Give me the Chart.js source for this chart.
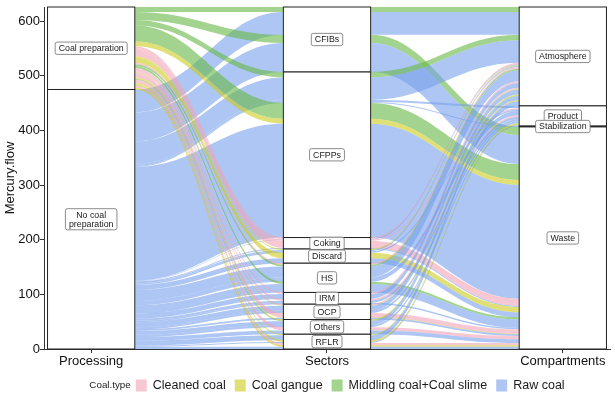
<!DOCTYPE html>
<html><head><meta charset="utf-8">
<script src="https://cdn.jsdelivr.net/npm/chart.js@4"></script>
<style>html,body{margin:0;padding:0;background:#fff}#wrap{width:615px;height:401px}</style>
</head><body><div id="wrap"><canvas id="c" width="615" height="401"></canvas></div>
<script>
// ---- categories ----
const axisNames = ['Processing', 'Sectors', 'Compartments'];
const processingLevels = ['Coal preparation', 'No coal preparation'];
const sectorLevels = ['CFIBs', 'CFPPs', 'Coking', 'Discard', 'HS', 'IRM', 'OCP', 'Others', 'RFLR'];
const compartmentLevels = ['Atmosphere', 'Product', 'Stabilization', 'Waste'];
const coalTypes = ['Cleaned coal', 'Coal gangue', 'Middling coal+Coal slime', 'Raw coal'];
const yTicks = [0, 100, 200, 300, 400, 500, 600];

const P = 'Coal preparation', N = 'No coal preparation';
const CC = 'Cleaned coal', CG = 'Coal gangue', MC = 'Middling coal+Coal slime', RC = 'Raw coal';
const A = 'Atmosphere', PR = 'Product', S = 'Stabilization', W = 'Waste';

// ---- alluvia (one entry per flow) ----
const flowProcessing = [
  P,N,P,N,
  P,N,N,N,P,P,N,
  P,N,P,P,N,
  P,N,N,P,N,
  P,P,N,N,P,N,
  P,N,P,N,N,
  P,P,N,N,P,P,N,
  P,P,N,N,P,N,
  P,N,P,N,P,P,N];
const flowSector = [
  'CFIBs','CFIBs','CFIBs','CFIBs',
  'CFPPs','CFPPs','CFPPs','CFPPs','CFPPs','CFPPs','CFPPs',
  'Coking','Coking','Coking','Coking','Coking',
  'Discard','Discard','Discard','Discard','Discard',
  'HS','HS','HS','HS','HS','HS',
  'IRM','IRM','IRM','IRM','IRM',
  'OCP','OCP','OCP','OCP','OCP','OCP','OCP',
  'Others','Others','Others','Others','Others','Others',
  'RFLR','RFLR','RFLR','RFLR','RFLR','RFLR','RFLR'];
const flowCompartment = [
  A,A,W,W,
  A,A,PR,S,W,W,W,
  A,A,PR,W,W,
  A,A,PR,W,W,
  A,A,A,PR,W,W,
  A,A,PR,PR,W,
  A,A,A,PR,W,W,W,
  A,A,A,PR,W,W,
  A,A,PR,PR,W,W,W];
const flowCoalType = [
  MC,RC,MC,RC,
  MC,RC,RC,RC,MC,CG,RC,
  CC,RC,CC,CC,RC,
  CG,RC,RC,CG,RC,
  CC,MC,RC,RC,MC,RC,
  CC,RC,CC,RC,RC,
  CC,CG,RC,RC,CC,CG,RC,
  CG,MC,RC,RC,CC,RC,
  CG,RC,CG,RC,CC,CG,RC];
const flowMercury = [
  9,42,15,53,
  10,41,4,1.5,29,9,208.5,
  3,1,2,13,2,
  2,2,3,10,9,
  3,3,20,8,4,15.5,
  3,9,3,4,2.5,
  2,1,9,4,8,1,3,
  2,1,7,4,6,7,
  2,9,3,2,4,3,4];

// ---- styles ----
const coalColors = ['rgba(242,163,182,0.6)', 'rgba(203,203,27,0.6)', 'rgba(102,183,68,0.6)', 'rgba(118,160,235,0.6)'];
const FONT = '"Liberation Sans", Arial, sans-serif';
const stratumWidth = 0.37;
const knot = 0.42;

function stack(keys) {
  const n = flowMercury.length;
  const idx = [...Array(n).keys()];
  idx.sort((a, b) => {
    for (const k of keys) { const d = k[a] - k[b]; if (d) return d; }
    return a - b;
  });
  const total = flowMercury.reduce((s, v) => s + v, 0);
  const top = new Array(n), bot = new Array(n);
  let cur = total;
  for (const i of idx) { top[i] = cur; cur -= flowMercury[i]; bot[i] = cur; }
  return { top, bot };
}

const pI = flowProcessing.map(v => processingLevels.indexOf(v));
const sI = flowSector.map(v => sectorLevels.indexOf(v));
const cI = flowCompartment.map(v => compartmentLevels.indexOf(v));
const tI = flowCoalType.map(v => coalTypes.indexOf(v));
const axisStacks = [stack([pI, sI, cI]), stack([sI, cI, pI]), stack([cI, sI, pI])];
const axisVars = [[pI, processingLevels], [sI, sectorLevels], [cI, compartmentLevels]];
const stratumLabels = {'No coal preparation': 'No coal\npreparation'};

function roundRect(ctx, x, y, w, h, r) {
  ctx.beginPath();
  ctx.moveTo(x + r, y); ctx.lineTo(x + w - r, y); ctx.quadraticCurveTo(x + w, y, x + w, y + r);
  ctx.lineTo(x + w, y + h - r); ctx.quadraticCurveTo(x + w, y + h, x + w - r, y + h);
  ctx.lineTo(x + r, y + h); ctx.quadraticCurveTo(x, y + h, x, y + h - r);
  ctx.lineTo(x, y + r); ctx.quadraticCurveTo(x, y, x + r, y); ctx.closePath();
}

function drawLabel(ctx, text, x, y) {
  const lines = text.split('\n');
  ctx.font = '8.8px ' + FONT;
  const lh = 8.8;
  const w = Math.max(...lines.map(l => ctx.measureText(l).width)) + 7;
  const h = lines.length * lh + 3.5;
  roundRect(ctx, x - w / 2, y - h / 2, w, h, 2);
  ctx.fillStyle = '#fff'; ctx.fill();
  ctx.lineWidth = 0.8; ctx.strokeStyle = '#6e6e6e'; ctx.stroke();
  ctx.fillStyle = '#1a1a1a'; ctx.textAlign = 'center'; ctx.textBaseline = 'middle';
  lines.forEach((l, k) => ctx.fillText(l, x, y - (lines.length - 1) * lh / 2 + k * lh + 0.5));
}

const alluvialPlugin = {
  id: 'alluvial',
  beforeDatasetsDraw(chart) {
    const ctx = chart.ctx, xs = chart.scales.x, ys = chart.scales.y;
    ctx.save();
    // flows
    for (let i = 0; i < flowMercury.length; i++) {
      ctx.fillStyle = coalColors[tI[i]];
      for (let a = 0; a < 2; a++) {
        const x0 = xs.getPixelForValue(a + 1 + stratumWidth / 2);
        const x1 = xs.getPixelForValue(a + 2 - stratumWidth / 2);
        const dx = x1 - x0;
        const t0 = ys.getPixelForValue(axisStacks[a].top[i]), b0 = ys.getPixelForValue(axisStacks[a].bot[i]);
        const t1 = ys.getPixelForValue(axisStacks[a + 1].top[i]), b1 = ys.getPixelForValue(axisStacks[a + 1].bot[i]);
        ctx.beginPath();
        ctx.moveTo(x0, t0);
        ctx.bezierCurveTo(x0 + knot * dx, t0, x1 - knot * dx, t1, x1, t1);
        ctx.lineTo(x1, b1);
        ctx.bezierCurveTo(x1 - knot * dx, b1, x0 + knot * dx, b0, x0, b0);
        ctx.closePath();
        ctx.fill();
      }
    }
    // strata
    const labels = [];
    for (let a = 0; a < 3; a++) {
      const [vi, levels] = axisVars[a];
      const xl = xs.getPixelForValue(a + 1 - stratumWidth / 2), xr = xs.getPixelForValue(a + 1 + stratumWidth / 2);
      levels.forEach((lev, li) => {
        let top = -Infinity, bot = Infinity;
        for (let i = 0; i < flowMercury.length; i++) if (vi[i] === li) {
          top = Math.max(top, axisStacks[a].top[i]); bot = Math.min(bot, axisStacks[a].bot[i]);
        }
        if (top === -Infinity) return;
        const yt = ys.getPixelForValue(top), yb = ys.getPixelForValue(bot);
        ctx.fillStyle = '#fff'; ctx.fillRect(xl, yt, xr - xl, yb - yt);
        ctx.strokeStyle = '#222'; ctx.lineWidth = 1;
        ctx.strokeRect(xl, yt, xr - xl, yb - yt);
        labels.push([stratumLabels[lev] || lev, (xl + xr) / 2, (yt + yb) / 2]);
      });
    }
    labels.forEach(l => drawLabel(ctx, l[0], l[1], l[2]));
    ctx.restore();
  },
  afterDraw(chart) {
    const ctx = chart.ctx;
    ctx.save();
    ctx.textBaseline = 'middle'; ctx.textAlign = 'left';
    ctx.fillStyle = '#1a1a1a';
    const title = 'Coal.type';
    const legendY = 385.5;
    ctx.font = '12.5px ' + FONT;
    const items = coalTypes.map(t => ctx.measureText(t).width);
    const sw = 11, gapT = 6, gapI = 9;
    ctx.font = '9.8px ' + FONT;
    const tw = ctx.measureText(title).width;
    const totalW = tw + 5 + items.reduce((s, w) => s + sw + gapT + w, 0) + gapI * (items.length - 1);
    const center = (chart.chartArea.left + chart.chartArea.right) / 2;
    let x = center - totalW / 2;
    ctx.fillText(title, x, legendY);
    x += tw + 5;
    ctx.font = '12.5px ' + FONT;
    coalTypes.forEach((t, k) => {
      ctx.fillStyle = coalColors[k];
      ctx.fillRect(x, legendY - 6, sw, 12);
      x += sw + gapT;
      ctx.fillStyle = '#1a1a1a';
      ctx.fillText(t, x, legendY);
      x += items[k] + gapI;
    });
    ctx.restore();
  }
};

new Chart(document.getElementById('c'), {
  type: 'scatter',
  data: { datasets: coalTypes.map((t, k) => ({ label: t, data: [], backgroundColor: coalColors[k] })) },
  options: {
    responsive: false, animation: false, devicePixelRatio: 1,
    layout: { padding: { left: 0, right: 5, top: 7, bottom: 0 } },
    plugins: { legend: { display: false }, tooltip: { enabled: false } },
    scales: {
      x: {
        type: 'linear', min: 0.8, max: 3.2,
        afterBuildTicks: s => { s.ticks = axisNames.map((n, k) => ({ value: k + 1 })); },
        ticks: { callback: v => axisNames[v - 1], font: { size: 13, family: FONT }, color: '#111', padding: 1, maxRotation: 0, autoSkip: false },
        grid: { drawOnChartArea: false, drawTicks: true, tickLength: 4, color: '#333' },
        border: { color: '#333', width: 1 },
        afterFit: s => { s.height = 52; s.paddingLeft = 0; s.paddingRight = 0; }
      },
      y: {
        min: 0, max: 626,
        afterBuildTicks: s => { s.ticks = yTicks.map(v => ({ value: v })); },
        ticks: { font: { size: 13, family: FONT }, color: '#111', padding: 0 },
        grid: { drawOnChartArea: false, drawTicks: true, tickLength: 4, color: '#333' },
        border: { color: '#333', width: 1 },
        title: { display: true, text: 'Mercury.flow', font: { size: 13, family: FONT }, color: '#111', padding: { top: 3, bottom: 0 } },
        afterFit: s => { s.width = 44; s.paddingTop = 0; s.paddingBottom = 0; }
      }
    }
  },
  plugins: [alluvialPlugin]
});
</script></body></html>
